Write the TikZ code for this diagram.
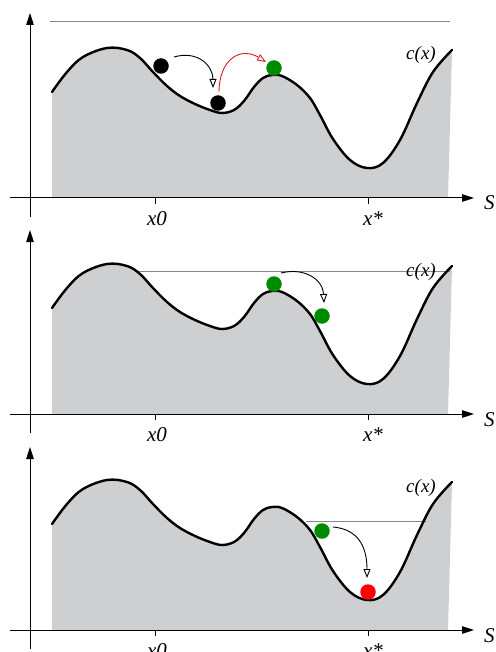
\documentclass[tikz,border=0pt]{standalone}
\usepackage{fontspec}
\setmainfont{Liberation Serif}
\usetikzlibrary{arrows.meta}
\definecolor{landgray}{RGB}{206,207,209}
\definecolor{ballgreen}{RGB}{0,140,0}
\definecolor{ballred}{RGB}{255,0,0}
\definecolor{arrred}{RGB}{215,30,30}
\definecolor{levelgray}{RGB}{135,135,135}
\newcommand{\landfill}{\fill[land] (52,198) -- plot[smooth,tension=0.6] coordinates {(52,92) (67,72) (83,57) (107,48) (127,50) (140,58) (153,72) (167,86) (180,96) (195,104) (210,110) (222,113) (234,110) (244,101) (254,87) (263,78) (272,75) (282,76) (297,85) (310,98) (320,115) (333,139) (350,160) (367,168) (383,163) (400,140) (417,103) (433,72) (452,50)} -- (448,198) -- cycle;}
\newcommand{\landcurve}{\draw[curve] plot[smooth,tension=0.6] coordinates {(52,92) (67,72) (83,57) (107,48) (127,50) (140,58) (153,72) (167,86) (180,96) (195,104) (210,110) (222,113) (234,110) (244,101) (254,87) (263,78) (272,75) (282,76) (297,85) (310,98) (320,115) (333,139) (350,160) (367,168) (383,163) (400,140) (417,103) (433,72) (452,50)};}
\tikzset{
  land/.style={fill=landgray, draw=none},
  curve/.style={line width=2.4pt, line join=round, line cap=round},
  axis/.style={line width=1pt, -{Triangle[length=12pt,width=7.5pt]}},
  tick/.style={line width=0.8pt},
  level/.style={draw=levelgray, line width=0.7pt},
  ball/.style={circle, minimum size=15.5pt, inner sep=0pt, draw=none},
  conn/.style={line width=0.9pt, -{Triangle[open,length=9pt,width=7pt,fill=white]}},
  lbl/.style={font=\itshape\fontsize{19}{22}\selectfont, inner sep=0pt},
  xlbl/.style={font=\itshape\fontsize{21}{24}\selectfont, inner sep=0pt, anchor=base},
  slbl/.style={font=\itshape\fontsize{21}{24}\selectfont, inner sep=0pt}
}
\begin{document}
\begin{tikzpicture}[x=1pt,y=-1pt]
\useasboundingbox (0,0) rectangle (495,652);

% ---------------- Panel 1 ----------------
\begin{scope}
  \landfill
  \coordinate (l1a) at (50,21);
  \coordinate (l1b) at (450,21);
  \draw[level] (l1a) -- (l1b);
  \landcurve
  \coordinate (ya1) at (30,217);
  \coordinate (yb1) at (30,13);
  \draw[axis] (ya1) -- (yb1);
  \coordinate (xa1) at (10,198);
  \coordinate (xb1) at (474,198);
  \draw[axis] (xa1) -- (xb1);
  \coordinate (t0a1) at (155,198);
  \coordinate (t0b1) at (155,204);
  \draw[tick] (t0a1) -- (t0b1);
  \coordinate (tsa1) at (368,198);
  \coordinate (tsb1) at (368,204);
  \draw[tick] (tsa1) -- (tsb1);
  \node[xlbl] (x0p1) at (157,225) {x0};
  \node[xlbl] (xsp1) at (373,225) {x*};
  \node[slbl, anchor=base west] (sp1) at (484,210) {S};
  \node[lbl, anchor=base] (cp1) at (421,60) {c(x)};
  \node[ball, fill=black] (b11) at (161,66) {};
  \node[ball, fill=black] (b12) at (218,103) {};
  \node[ball, fill=ballgreen] (g11) at (274,68) {};
  \coordinate (a1s) at (174,57);
  \coordinate (a1e) at (213,88);
  \draw[conn] (a1s) .. controls (198,50) and (213,66) .. (a1e);
  \coordinate (r1s) at (219,92);
  \coordinate (r1e) at (266,62);
  \draw[conn, draw=arrred] (r1s) .. controls (219,60) and (240,46) .. (r1e);
\end{scope}

% ---------------- Panel 2 ----------------
\begin{scope}[yshift=-216pt]
  \landfill
  \coordinate (l2a) at (135,55);
  \coordinate (l2b) at (450,55);
  \draw[level] (l2a) -- (l2b);
  \landcurve
  \coordinate (ya2) at (30,217);
  \coordinate (yb2) at (30,14);
  \draw[axis] (ya2) -- (yb2);
  \coordinate (xa2) at (10,198);
  \coordinate (xb2) at (474,198);
  \draw[axis] (xa2) -- (xb2);
  \coordinate (t0a2) at (155,198);
  \coordinate (t0b2) at (155,204);
  \draw[tick] (t0a2) -- (t0b2);
  \coordinate (tsa2) at (368,198);
  \coordinate (tsb2) at (368,204);
  \draw[tick] (tsa2) -- (tsb2);
  \node[xlbl] (x0p2) at (157,225) {x0};
  \node[xlbl] (xsp2) at (373,225) {x*};
  \node[slbl, anchor=base west] (sp2) at (484,210) {S};
  \node[lbl, anchor=base] (cp2) at (421,60) {c(x)};
  \node[ball, fill=ballgreen] (g21) at (274,68) {};
  \node[ball, fill=ballgreen] (g22) at (322,100) {};
  \coordinate (a2s) at (281,57);
  \coordinate (a2e) at (324,87);
  \draw[conn] (a2s) .. controls (305,51) and (323,64) .. (a2e);
\end{scope}

% ---------------- Panel 3 ----------------
\begin{scope}[yshift=-432pt]
  \landfill
  \coordinate (l3a) at (306,89);
  \coordinate (l3b) at (426,89);
  \draw[level] (l3a) -- (l3b);
  \landcurve
  \coordinate (ya3) at (30,217);
  \coordinate (yb3) at (30,15);
  \draw[axis] (ya3) -- (yb3);
  \coordinate (xa3) at (10,198);
  \coordinate (xb3) at (474,198);
  \draw[axis] (xa3) -- (xb3);
  \coordinate (t0a3) at (155,198);
  \coordinate (t0b3) at (155,204);
  \draw[tick] (t0a3) -- (t0b3);
  \coordinate (tsa3) at (368,198);
  \coordinate (tsb3) at (368,204);
  \draw[tick] (tsa3) -- (tsb3);
  \node[xlbl] (x0p3) at (157,225) {x0};
  \node[xlbl] (xsp3) at (373,225) {x*};
  \node[slbl, anchor=base west] (sp3) at (484,210) {S};
  \node[lbl, anchor=base] (cp3) at (421,60) {c(x)};
  \node[ball, fill=ballgreen] (g31) at (322,99) {};
  \node[ball, fill=ballred] (r31) at (368,160) {};
  \coordinate (a3s) at (333,95);
  \coordinate (a3e) at (367,146);
  \draw[conn] (a3s) .. controls (356,97) and (367,112) .. (a3e);
\end{scope}
\end{tikzpicture}
\end{document}
